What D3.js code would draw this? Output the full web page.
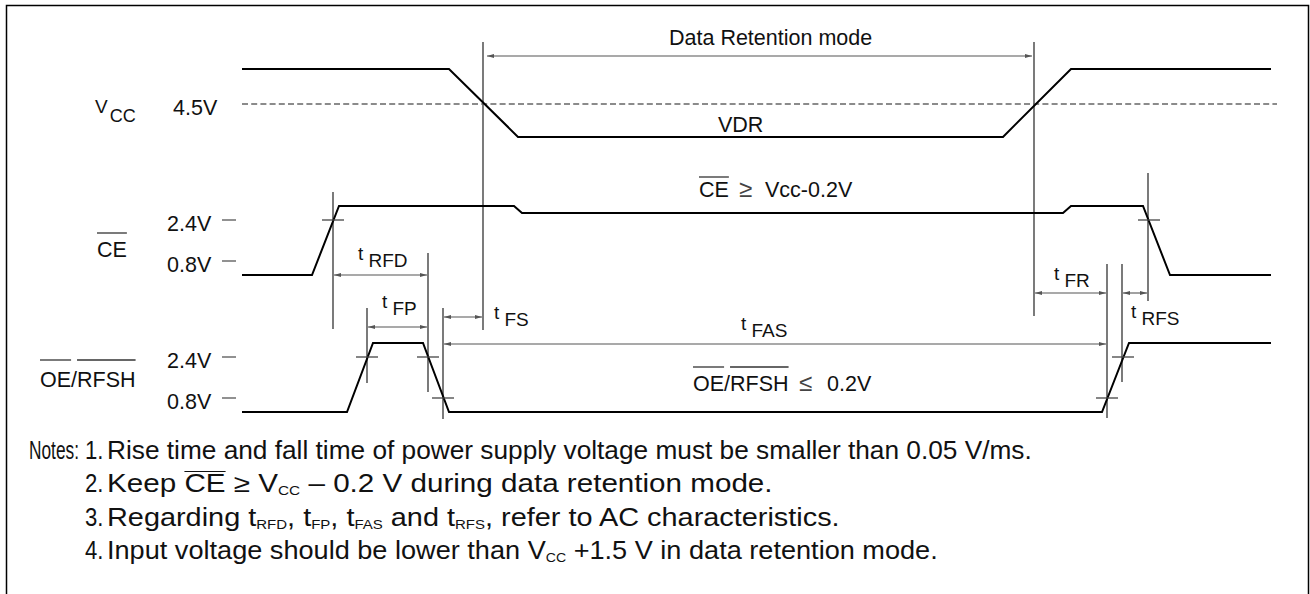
<!DOCTYPE html>
<html><head><meta charset="utf-8">
<script src="https://cdn.jsdelivr.net/npm/d3@7"></script>
<style>
body{margin:0;background:#fff}
svg{display:block}
text{font-family:"Liberation Sans",Arial,Helvetica,sans-serif;fill:#111}
</style>
</head><body>
<svg id="c" width="1310" height="594"></svg>
<script>
// ---------------- DATA (time units along the diagram, volts per signal) ----------------
const timeDomain = [0, 1029];

// VCC waveform
const vccTimes = [0, 207, 276, 761, 829, 1029];
const vccVolts = [5.0, 5.0, 4.03, 4.03, 5.0, 5.0];
const vccRef = 4.5;                   // dashed 4.5 V reference
const vccRefSpan = [0, 1035];

// /CE waveform
const ceTimes = [0, 70, 97, 272, 280, 821, 829, 901, 928, 1029];
const ceVolts = [0.25, 0.25, 2.95, 2.95, 2.67, 2.67, 2.95, 2.95, 0.25, 0.25];

// /OE-/RFSH waveform
const oeTimes = [0, 105, 131, 181, 207, 860, 887, 1029];
const oeVolts = [0.25, 0.25, 2.95, 2.95, 0.25, 0.25, 2.95, 2.95];

// threshold levels
const levelLabels = ["2.4V", "0.8V"];
const levelVolts = [2.4, 0.8];

// crossing marks (time, volts) on each signal
const ceCrossTimes = [91, 907];
const ceCrossVolts = [2.4, 2.4];
const oeCrossTimes = [125, 186, 201, 865, 881];
const oeCrossVolts = [2.4, 2.4, 0.8, 0.8, 2.4];

// vertical guide lines (times)
const guideTimes = [91, 125, 186, 201, 241, 792, 865, 880, 906];

// timing intervals
const timingNames = ["Data Retention mode", "RFD", "FP", "FS", "FAS", "FR", "RFS"];
const timingFrom  = [241, 91, 125, 201, 201, 792, 880];
const timingTo    = [792, 186, 186, 241, 865, 865, 906];

// notes
const noteLabel = "Notes:";
const noteNums = ["1.", "2.", "3.", "4."];
const noteParts = [
  [["Rise time and fall time of power supply voltage must be smaller than 0.05 V/ms."]],
  [["Keep "], ["CE", "over"], [" \u2265 V"], ["CC", "sub"], [" \u2013 0.2 V during data retention mode."]],
  [["Regarding t"], ["RFD", "sub"], [", t"], ["FP", "sub"], [", t"], ["FAS", "sub"], [" and t"], ["RFS", "sub"], [", refer to AC characteristics."]],
  [["Input voltage should be lower than V"], ["CC", "sub"], [" +1.5 V in data retention mode."]]
];

// ---------------- LAYOUT ----------------
const guideSpans = [[192,329],[308,383],[253,392],[308,419],[42,330],[42,316],[264,418],[264,382],[173,301]];
const timingY = [56, 275, 327, 317, 344, 293, 293];
const timingInset = [[4,2],[1,1],[1,1],[1,1],[1,1],[1,1],[1,1]];
const timingLabelPos = [[669,45],[358,267],[382,315],[494,326],[741,337],[1054,287],[1131,325]];
const noteLayout = {labelX:29, labelW:50, numX:85, textX:107, baselines:[459,492.5,526,559],
                    widths:[925,666,733,831], squeeze:0.885, size:25, subSize:13};

const svg = d3.select("#c");
const x = d3.scaleLinear().domain(timeDomain).range([242, 1271]);
const yVcc = d3.scaleLinear().domain([4.5, 5.0]).range([104, 69]);
const yCe = d3.scaleLinear().domain([0.8, 2.4]).range([261, 220]);
const yOe = d3.scaleLinear().domain([0.8, 2.4]).range([398, 357]);

// frame
svg.append("path").attr("d", "M6.5,600 V5.5 H1308.5 V600")
  .attr("fill","none").attr("stroke","#000").attr("stroke-width",1.5);

// defs: arrow marker
const defs = svg.append("defs");
defs.append("marker").attr("id","arr").attr("viewBox","0 0 7 4")
  .attr("refX",7).attr("refY",2).attr("markerWidth",7).attr("markerHeight",4)
  .attr("markerUnits","userSpaceOnUse").attr("orient","auto-start-reverse")
  .append("path").attr("d","M0,0 L7,2 L0,4 Z").attr("fill","#555");

// vertical guides
svg.append("g").selectAll("line").data(guideTimes).join("line")
  .attr("x1", d => x(d)).attr("x2", d => x(d))
  .attr("y1", (d,i) => guideSpans[i][0]).attr("y2", (d,i) => guideSpans[i][1])
  .attr("stroke","#333").attr("stroke-width",1.3);

// dashed 4.5V reference
svg.append("path")
  .attr("d", d3.line()(vccRefSpan.map(t => [x(t), yVcc(vccRef)])))
  .attr("stroke","#666").attr("stroke-width",1.4).attr("stroke-dasharray","6,3.2").attr("fill","none");

// waveforms
const line = d3.line();
function wave(times, volts, ys){
  svg.append("path").attr("d", line(times.map((t,i)=>[x(t), ys(volts[i])])))
    .attr("fill","none").attr("stroke","#000").attr("stroke-width",2).attr("stroke-linejoin","miter");
}
wave(vccTimes, vccVolts, yVcc);
wave(ceTimes, ceVolts, yCe);
wave(oeTimes, oeVolts, yOe);

// crossing ticks
function ticks(times, volts, ys){
  svg.append("g").selectAll("line").data(times).join("line")
    .attr("x1", d => x(d)-11).attr("x2", d => x(d)+11)
    .attr("y1", (d,i) => ys(volts[i])).attr("y2", (d,i) => ys(volts[i]))
    .attr("stroke","#444").attr("stroke-width",1.3);
}
ticks(ceCrossTimes, ceCrossVolts, yCe);
ticks(oeCrossTimes, oeCrossVolts, yOe);

// level labels with dash marks
[yCe, yOe].forEach(ys => {
  levelVolts.forEach((v,i) => {
    svg.append("text").attr("x",167).attr("y", ys(v)+11).style("font-size","21.5px").text(levelLabels[i]);
    svg.append("line").attr("x1",222).attr("x2",236).attr("y1",ys(v)).attr("y2",ys(v))
      .attr("stroke","#555").attr("stroke-width",1.3);
  });
});

// VCC label + 4.5V
const vl = svg.append("text").attr("x",95).attr("y",113).style("font-size","19px");
vl.append("tspan").text("V");
vl.append("tspan").attr("dx",2).attr("dy",9).style("font-size","18px").text("CC");
svg.append("text").attr("x",173).attr("y",115).style("font-size","21.5px").text("4.5V");

// overline helper
function overline(textSel, from, to, yLine){
  const n = textSel.node();
  const x0 = n.getStartPositionOfChar(from).x, x1 = n.getEndPositionOfChar(to).x;
  svg.append("line").attr("x1",x0).attr("x2",x1).attr("y1",yLine).attr("y2",yLine)
    .attr("stroke","#333").attr("stroke-width",1.3);
}

// CE label
const ceL = svg.append("text").attr("x",97).attr("y",257).style("font-size","21.5px").text("CE");
overline(ceL, 0, 1, 233);
// OE/RFSH label
const oeL = svg.append("text").attr("x",40).attr("y",387).style("font-size","21.5px").text("OE/RFSH");
overline(oeL, 0, 1, 360);
overline(oeL, 3, 6, 360);

// VDR
svg.append("text").attr("x",718).attr("y",132).style("font-size","21.5px").text("VDR");

// CE >= Vcc-0.2V
const ceC = svg.append("text").attr("y",197).style("font-size","21.5px");
ceC.append("tspan").attr("x",699).text("CE");
ceC.append("tspan").attr("x",739).style("font-size","24px").style("fill","#444").text("\u2265");
ceC.append("tspan").attr("x",765).text("Vcc-0.2V");
overline(ceC, 0, 1, 177);

// OE/RFSH <= 0.2V
const oeC = svg.append("text").attr("y",391).style("font-size","21.5px");
oeC.append("tspan").attr("x",693).text("OE/RFSH");
oeC.append("tspan").attr("x",799).style("font-size","24px").style("fill","#444").text("\u2264");
oeC.append("tspan").attr("x",827).text("0.2V");
overline(oeC, 0, 1, 367);
overline(oeC, 3, 6, 367);

// timing arrows
const tg = svg.append("g");
timingNames.forEach((name,i) => {
  const xa = x(timingFrom[i]) + timingInset[i][0], xb = x(timingTo[i]) - timingInset[i][1];
  tg.append("line").attr("x1",xa).attr("x2",xb).attr("y1",timingY[i]).attr("y2",timingY[i])
    .attr("stroke","#555").attr("stroke-width",1.1)
    .attr("marker-start","url(#arr)").attr("marker-end","url(#arr)");
  const [lx, ly] = timingLabelPos[i];
  if (i === 0) {
    tg.append("text").attr("x",lx).attr("y",ly).style("font-size","21.5px").text(name);
  } else {
    tg.append("text").attr("x",lx).attr("y",ly-7).style("font-size","19px").text("t");
    tg.append("text").attr("x",lx+10.5).attr("y",ly).style("font-size","19px").text(name);
  }
});

// notes (narrow glyphs: horizontally squeezed to the reference line widths)
const NF = "'Liberation Sans Narrow','Arial Narrow','Liberation Sans',Arial,sans-serif";
const SQ = noteLayout.squeeze, FS = noteLayout.size + "px";
function squeezeAt(g, x0, s){ g.attr("transform", `translate(${x0},0) scale(${s},1) translate(${-x0},0)`); }

const lg = svg.append("g");
const lt = lg.append("text").attr("x",noteLayout.labelX).attr("y",noteLayout.baselines[0])
  .style("font-family",NF).style("font-size",FS).text(noteLabel);
squeezeAt(lg, noteLayout.labelX, noteLayout.labelW / lt.node().getComputedTextLength());

noteParts.forEach((parts,i) => {
  const base = noteLayout.baselines[i];
  const ng = svg.append("g");
  ng.append("text").attr("x",noteLayout.numX).attr("y",base)
    .style("font-family",NF).style("font-size",FS).text(noteNums[i]);
  squeezeAt(ng, noteLayout.numX, SQ);

  const g = svg.append("g");
  const t = g.append("text").attr("x",noteLayout.textX).attr("y",base)
    .style("font-family",NF).style("font-size",FS);
  let shift = 0, idx = 0; const overs = [];
  parts.forEach(([s,kind]) => {
    const ts = t.append("tspan").text(s);
    if (kind === "sub") { ts.style("font-size", noteLayout.subSize + "px").attr("dy", 3 - shift); shift = 3; }
    else { if (shift) { ts.attr("dy", -shift); shift = 0; } }
    if (kind === "over") overs.push([idx, idx + s.length - 1]);
    idx += s.length;
  });
  const n = t.node();
  const w0 = n.getComputedTextLength();
  overs.forEach(([a,b]) => {
    const x0 = n.getStartPositionOfChar(a).x, x1 = n.getEndPositionOfChar(b).x;
    g.append("line").attr("x1",x0).attr("x2",x1).attr("y1",base-21).attr("y2",base-21)
      .attr("stroke","#111").attr("stroke-width",1.2);
  });
  squeezeAt(g, noteLayout.textX, noteLayout.widths[i] / w0);
});
</script>
</body></html>
